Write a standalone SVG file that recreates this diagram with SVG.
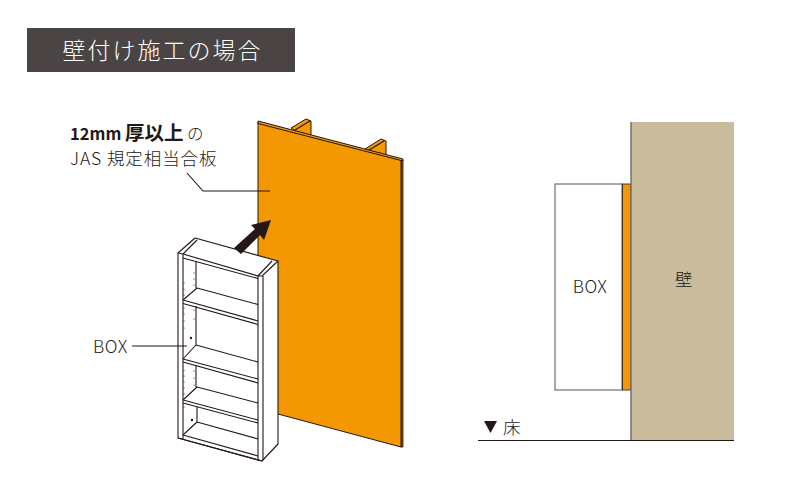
<svg xmlns="http://www.w3.org/2000/svg" width="800" height="500" viewBox="0 0 800 500">
<style>
text{font-family:"Noto Sans CJK JP","Noto Sans",sans-serif;fill:#231815}
.t{font-size:17.500px;font-weight:300;letter-spacing:.5px}
.l{fill:none;stroke:#231815;stroke-width:1.100}
.b{fill:#fff;stroke:#231815;stroke-width:1.100;stroke-linejoin:round}
.o{fill:#f39800;stroke:#231815;stroke-width:1;stroke-linejoin:round}
.d{fill:#231815}
</style>
<g id="title"><rect x="27" y="28" width="268" height="44" fill="#4a4544"/><text x="162.500" y="59" text-anchor="middle" style="font-size:23px;fill:#fff;font-weight:300;letter-spacing:2px">壁付け施工の場合</text></g>
<g id="panel">
<polygon class="o" points="291,128 306,119 311,121 311,136 297,132"/>
<line class="l" x1="295" y1="130" x2="310" y2="121"/>
<polygon class="o" points="365,149 381,139 386,141 386,156"/>
<line class="l" x1="369" y1="150" x2="384" y2="141"/>
<polygon fill="#8a5a10" stroke="#231815" stroke-width=".8" points="401,160 403,160 403,447 401,447"/>
<polygon class="o" points="258,122 258,414 278,414 401,447 401,160"/>
<polygon class="o" points="258,121 403,159 403,161 258,123.500"/>
</g>
<g id="box">
<polygon class="b" points="178,253 195,238 278,261 278,444 262,461 178,438"/>
<path class="l" d="M183,254L258,276V460M263,275V460M263,275L278,261M183,254V439M183,254L197,240M258,276L272,261M178,253L183,254M258,276H263"/>
<path class="l" d="M183,258L258,278.500M196,262V288M197,288L258,304.500M183,300L258,321M183,303.500L258,324.500M183,300L197,288M196,306V345M196,345L258,362M183,359L258,379M183,362L258,383M183,359L196,345M196,365V387M197,387L258,403M183,400L258,420M183,403L258,423M183,400L197,387M197,407V422M197,422L258,439M183,435L258,456M178,438L262,461M183,435L197,422"/>
<g class="d"><circle cx="194" cy="273" r=".6"/><circle cx="194" cy="279" r=".6"/><circle cx="194" cy="285" r=".6"/><circle cx="184" cy="283" r=".6"/><circle cx="184" cy="289" r=".6"/><circle cx="184" cy="295" r=".6"/><circle cx="194" cy="310" r=".6"/><circle cx="194" cy="319" r=".6"/><circle cx="184" cy="308" r=".6"/><circle cx="184" cy="314" r=".6"/><circle cx="184" cy="321" r=".6"/><circle cx="184" cy="328" r=".6"/><circle cx="191" cy="338" r="1.200"/><circle cx="184" cy="370" r=".6"/><circle cx="184" cy="376" r=".6"/><circle cx="184" cy="382" r=".6"/><circle cx="184" cy="388" r=".6"/><circle cx="184" cy="394" r=".6"/><circle cx="194" cy="371" r=".6"/><circle cx="194" cy="378" r=".6"/><circle cx="194" cy="385" r=".6"/><circle cx="184" cy="407" r=".6"/><circle cx="192" cy="420" r="1.200"/></g>
</g>
<g id="side-box"><rect x="555" y="184" width="67" height="206" fill="#fff" stroke="#727171" stroke-width="1.200"/><text class="t" x="590" y="293" text-anchor="middle">BOX</text></g>
<g id="side-panel"><rect x="622.500" y="184" width="8.500" height="206" fill="#f39800" stroke="#231815" stroke-width=".8"/></g>
<g id="wall"><rect x="631" y="122" width="103" height="318" fill="#c9bc9c"/><line x1="631" y1="122" x2="631" y2="440" stroke="#727171" stroke-width="1.500"/><text class="t" x="684" y="286" text-anchor="middle">壁</text></g>
<g id="floor"><polygon class="d" points="484,421 497,421 490.500,433"/><text class="t" x="512" y="434" text-anchor="middle">床</text></g>
<g id="connectors">
<line x1="478" y1="440.500" x2="734" y2="440.500" stroke="#231815" stroke-width="1.200"/>
<polygon class="d" points="234,248 255,229 251,225 271,220 264,240 260,235 241,254"/>
<path class="l" d="M187,173L203,191H270"/>
<path class="l" d="M132,346H187"/>
</g>
<g id="labels">
<text x="70" y="140" style="font-size:16.500px;font-weight:700">12mm <tspan x="125" style="font-size:19.500px">厚以上</tspan><tspan x="187" style="font-weight:300">の</tspan></text>
<text class="t" x="70" y="165" style="letter-spacing:.9px">JAS 規定相当合板</text>
<text class="t" x="93" y="353">BOX</text>
</g>
</svg>
